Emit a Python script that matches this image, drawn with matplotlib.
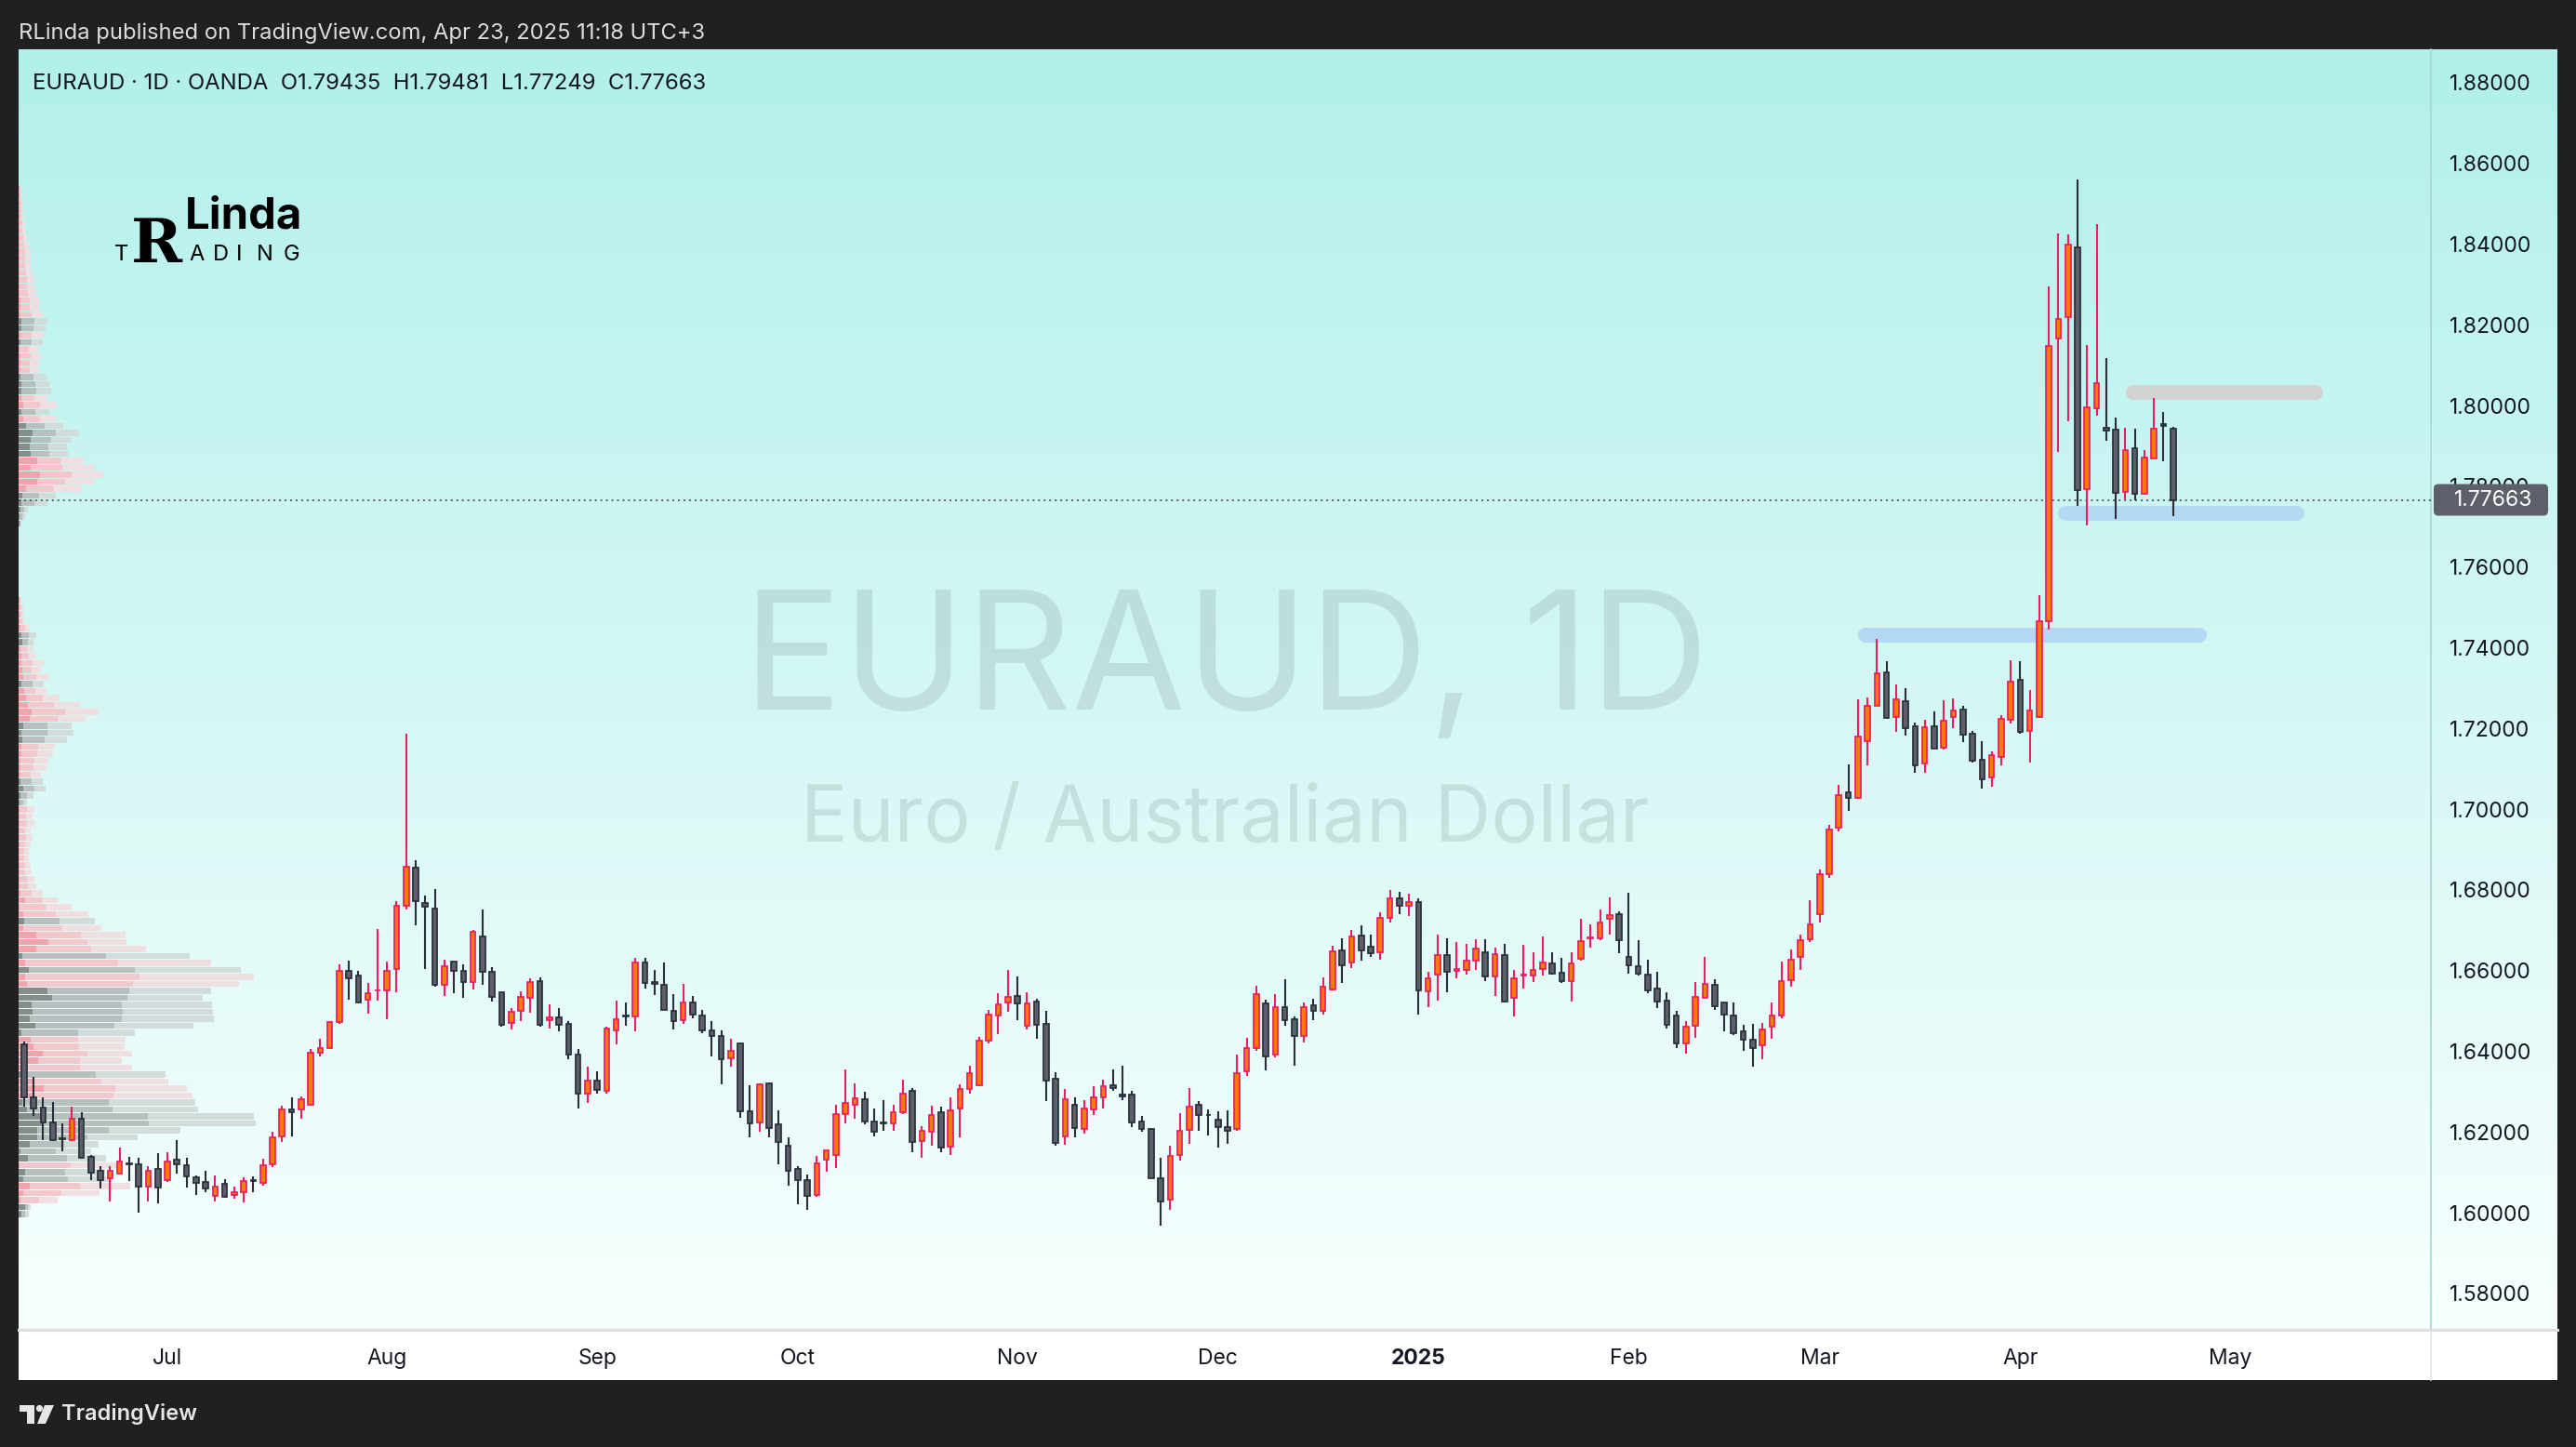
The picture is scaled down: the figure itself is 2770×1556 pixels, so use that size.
import numpy as np
import matplotlib
matplotlib.use("Agg")
import matplotlib.pyplot as plt
import matplotlib.transforms as mtransforms
from matplotlib import font_manager
from matplotlib.patches import FancyBboxPatch, Polygon, Circle, Rectangle
from matplotlib.lines import Line2D

plt.rcParams['font.family'] = ['Inter', 'DejaVu Sans']

# EURAUD 1D (OANDA) daily candles, 10 Jun 2024 -> 23 Apr 2025
opens = [
    1.6417, 1.6286, 1.6261, 1.6223, 1.6184, 1.6181, 1.6234, 1.6138, 1.6105, 1.6086,
    1.6098, 1.6122, 1.6119, 1.6065, 1.6108, 1.6080, 1.6131, 1.6117, 1.6088, 1.6076,
    1.6042, 1.6071, 1.6044, 1.6050, 1.6080, 1.6073, 1.6119, 1.6189, 1.6257, 1.6255,
    1.6268, 1.6397, 1.6407, 1.6472, 1.6600, 1.6588, 1.6528, 1.6550, 1.6552, 1.6603,
    1.6760, 1.6854, 1.6767, 1.6753, 1.6564, 1.6622, 1.6599, 1.6572, 1.6684, 1.6596,
    1.6546, 1.6470, 1.6501, 1.6532, 1.6574, 1.6477, 1.6483, 1.6468, 1.6391, 1.6294,
    1.6328, 1.6303, 1.6451, 1.6488, 1.6487, 1.6620, 1.6572, 1.6564, 1.6501, 1.6477,
    1.6520, 1.6488, 1.6451, 1.6437, 1.6382, 1.6420, 1.6251, 1.6223, 1.6321, 1.6218,
    1.6165, 1.6108, 1.6080, 1.6044, 1.6131, 1.6144, 1.6244, 1.6267, 1.6282, 1.6225,
    1.6223, 1.6221, 1.6248, 1.6302, 1.6177, 1.6200, 1.6248, 1.6163, 1.6258, 1.6307,
    1.6317, 1.6426, 1.6488, 1.6520, 1.6538, 1.6463, 1.6524, 1.6469, 1.6332, 1.6190,
    1.6268, 1.6208, 1.6257, 1.6286, 1.6315, 1.6292, 1.6292, 1.6225, 1.6207, 1.6085,
    1.6033, 1.6142, 1.6205, 1.6267, 1.6242, 1.6230, 1.6213, 1.6207, 1.6350, 1.6409,
    1.6518, 1.6393, 1.6509, 1.6480, 1.6437, 1.6513, 1.6500, 1.6553, 1.6650, 1.6620,
    1.6688, 1.6660, 1.6645, 1.6730, 1.6780, 1.6760, 1.6770, 1.6549, 1.6589, 1.6638,
    1.6600, 1.6601, 1.6624, 1.6645, 1.6585, 1.6638, 1.6532, 1.6587, 1.6587, 1.6605,
    1.6618, 1.6595, 1.6574, 1.6629, 1.6680, 1.6681, 1.6729, 1.6739, 1.6633, 1.6610,
    1.6589, 1.6555, 1.6525, 1.6488, 1.6419, 1.6463, 1.6532, 1.6564, 1.6522, 1.6488,
    1.6449, 1.6428, 1.6414, 1.6460, 1.6488, 1.6576, 1.6633, 1.6678, 1.6739, 1.6840,
    1.6955, 1.7041, 1.7029, 1.7169, 1.7256, 1.7338, 1.7228, 1.7267, 1.7206, 1.7113,
    1.7206, 1.7152, 1.7228, 1.7246, 1.7186, 1.7122, 1.7079, 1.7129, 1.7221, 1.7320,
    1.7194, 1.7229, 1.7465, 1.8166, 1.8218, 1.8393, 1.7793, 1.7993, 1.7946, 1.7941,
    1.7786, 1.7895, 1.7782, 1.7870, 1.7953, 1.79435,
]
highs = [
    1.6425, 1.6336, 1.6286, 1.6274, 1.6221, 1.6264, 1.6249, 1.6142, 1.6115, 1.6115,
    1.6161, 1.6139, 1.6136, 1.6115, 1.6148, 1.6150, 1.6180, 1.6136, 1.6092, 1.6104,
    1.6092, 1.6083, 1.6065, 1.6088, 1.6090, 1.6134, 1.6201, 1.6265, 1.6286, 1.6288,
    1.6405, 1.6432, 1.6476, 1.6615, 1.6625, 1.6600, 1.6570, 1.6703, 1.6622, 1.6772,
    1.7187, 1.6874, 1.6787, 1.6802, 1.6626, 1.6622, 1.6616, 1.6701, 1.6751, 1.6609,
    1.6546, 1.6507, 1.6549, 1.6580, 1.6583, 1.6516, 1.6507, 1.6476, 1.6405, 1.6361,
    1.6350, 1.6461, 1.6526, 1.6520, 1.6632, 1.6632, 1.6601, 1.6620, 1.6542, 1.6566,
    1.6537, 1.6503, 1.6476, 1.6451, 1.6432, 1.6420, 1.6315, 1.6321, 1.6323, 1.6254,
    1.6186, 1.6116, 1.6094, 1.6140, 1.6155, 1.6267, 1.6355, 1.6320, 1.6300, 1.6258,
    1.6278, 1.6267, 1.6330, 1.6309, 1.6215, 1.6265, 1.6263, 1.6286, 1.6318, 1.6364,
    1.6436, 1.6503, 1.6543, 1.6601, 1.6586, 1.6546, 1.6530, 1.6500, 1.6347, 1.6307,
    1.6286, 1.6278, 1.6313, 1.6330, 1.6355, 1.6364, 1.6301, 1.6240, 1.6211, 1.6136,
    1.6165, 1.6246, 1.6309, 1.6277, 1.6255, 1.6251, 1.6254, 1.6393, 1.6433, 1.6562,
    1.6528, 1.6542, 1.6579, 1.6487, 1.6520, 1.6530, 1.6583, 1.6662, 1.6680, 1.6700,
    1.6712, 1.6690, 1.6745, 1.6800, 1.6795, 1.6790, 1.6780, 1.6597, 1.6690, 1.6680,
    1.6670, 1.6665, 1.6678, 1.6678, 1.6657, 1.6666, 1.6601, 1.6664, 1.6645, 1.6685,
    1.6645, 1.6631, 1.6645, 1.6728, 1.6715, 1.6751, 1.6781, 1.6747, 1.6793, 1.6675,
    1.6626, 1.6597, 1.6547, 1.6501, 1.6474, 1.6572, 1.6635, 1.6578, 1.6522, 1.6522,
    1.6465, 1.6468, 1.6470, 1.6520, 1.6622, 1.6652, 1.6689, 1.6774, 1.6850, 1.6960,
    1.7060, 1.7110, 1.7271, 1.7277, 1.7421, 1.7367, 1.7309, 1.7300, 1.7215, 1.7221,
    1.7242, 1.7269, 1.7274, 1.7256, 1.7194, 1.7168, 1.7143, 1.7233, 1.7369, 1.7366,
    1.7295, 1.7530, 1.8296, 1.8427, 1.8424, 1.8559, 1.8150, 1.8450, 1.8118, 1.7970,
    1.7945, 1.7943, 1.7890, 1.8019, 1.7983, 1.79481,
]
lows = [
    1.6263, 1.6240, 1.6179, 1.6178, 1.6153, 1.6177, 1.6133, 1.6082, 1.6061, 1.6029,
    1.6096, 1.6079, 1.6000, 1.6029, 1.6023, 1.6077, 1.6098, 1.6063, 1.6044, 1.6052,
    1.6029, 1.6038, 1.6035, 1.6026, 1.6052, 1.6067, 1.6112, 1.6176, 1.6190, 1.6234,
    1.6267, 1.6388, 1.6405, 1.6468, 1.6528, 1.6522, 1.6494, 1.6526, 1.6480, 1.6547,
    1.6752, 1.6712, 1.6605, 1.6561, 1.6538, 1.6545, 1.6533, 1.6553, 1.6564, 1.6523,
    1.6460, 1.6453, 1.6476, 1.6496, 1.6460, 1.6457, 1.6450, 1.6381, 1.6259, 1.6271,
    1.6294, 1.6295, 1.6418, 1.6463, 1.6450, 1.6556, 1.6539, 1.6503, 1.6455, 1.6467,
    1.6482, 1.6444, 1.6388, 1.6319, 1.6361, 1.6236, 1.6186, 1.6201, 1.6188, 1.6121,
    1.6066, 1.6021, 1.6008, 1.6040, 1.6102, 1.6111, 1.6222, 1.6232, 1.6218, 1.6190,
    1.6202, 1.6202, 1.6245, 1.6150, 1.6136, 1.6165, 1.6150, 1.6142, 1.6188, 1.6296,
    1.6314, 1.6420, 1.6443, 1.6499, 1.6478, 1.6455, 1.6432, 1.6276, 1.6165, 1.6169,
    1.6186, 1.6196, 1.6242, 1.6259, 1.6301, 1.6278, 1.6213, 1.6200, 1.6086, 1.5969,
    1.6008, 1.6130, 1.6171, 1.6203, 1.6192, 1.6162, 1.6171, 1.6202, 1.6338, 1.6401,
    1.6353, 1.6384, 1.6464, 1.6364, 1.6423, 1.6478, 1.6492, 1.6551, 1.6570, 1.6607,
    1.6624, 1.6633, 1.6627, 1.6720, 1.6740, 1.6735, 1.6492, 1.6510, 1.6526, 1.6547,
    1.6582, 1.6590, 1.6602, 1.6574, 1.6538, 1.6522, 1.6487, 1.6556, 1.6572, 1.6588,
    1.6589, 1.6569, 1.6523, 1.6624, 1.6658, 1.6676, 1.6689, 1.6643, 1.6593, 1.6587,
    1.6545, 1.6507, 1.6457, 1.6409, 1.6395, 1.6434, 1.6532, 1.6503, 1.6450, 1.6441,
    1.6401, 1.6361, 1.6380, 1.6432, 1.6482, 1.6561, 1.6602, 1.6670, 1.6720, 1.6830,
    1.6946, 1.6996, 1.7026, 1.7108, 1.7256, 1.7223, 1.7191, 1.7183, 1.7089, 1.7089,
    1.7150, 1.7148, 1.7200, 1.7167, 1.7115, 1.7052, 1.7056, 1.7108, 1.7213, 1.7188,
    1.7115, 1.7225, 1.7446, 1.7884, 1.7962, 1.7751, 1.7702, 1.7974, 1.7912, 1.7720,
    1.7768, 1.7765, 1.7782, 1.7868, 1.7863, 1.77249,
]
closes = [
    1.6286, 1.6259, 1.6223, 1.6181, 1.6183, 1.6232, 1.6136, 1.6100, 1.6080, 1.6103,
    1.6126, 1.6121, 1.6065, 1.6103, 1.6063, 1.6128, 1.6119, 1.6089, 1.6075, 1.6059,
    1.6065, 1.6040, 1.6052, 1.6079, 1.6079, 1.6117, 1.6186, 1.6257, 1.6249, 1.6282,
    1.6396, 1.6407, 1.6472, 1.6600, 1.6582, 1.6522, 1.6543, 1.6552, 1.6599, 1.6760,
    1.6858, 1.6771, 1.6758, 1.6564, 1.6610, 1.6599, 1.6572, 1.6695, 1.6596, 1.6534,
    1.6466, 1.6497, 1.6534, 1.6572, 1.6466, 1.6483, 1.6465, 1.6391, 1.6294, 1.6328,
    1.6305, 1.6456, 1.6480, 1.6487, 1.6620, 1.6570, 1.6566, 1.6503, 1.6474, 1.6520,
    1.6492, 1.6451, 1.6437, 1.6380, 1.6401, 1.6251, 1.6221, 1.6318, 1.6209, 1.6176,
    1.6105, 1.6080, 1.6042, 1.6123, 1.6155, 1.6244, 1.6273, 1.6284, 1.6225, 1.6200,
    1.6222, 1.6248, 1.6294, 1.6175, 1.6204, 1.6242, 1.6161, 1.6253, 1.6307, 1.6346,
    1.6426, 1.6490, 1.6516, 1.6535, 1.6519, 1.6518, 1.6465, 1.6327, 1.6172, 1.6282,
    1.6209, 1.6259, 1.6286, 1.6314, 1.6309, 1.6288, 1.6223, 1.6207, 1.6086, 1.6027,
    1.6140, 1.6202, 1.6264, 1.6241, 1.6241, 1.6212, 1.6202, 1.6345, 1.6407, 1.6541,
    1.6388, 1.6509, 1.6478, 1.6437, 1.6509, 1.6500, 1.6559, 1.6647, 1.6612, 1.6685,
    1.6650, 1.6643, 1.6730, 1.6780, 1.6760, 1.6770, 1.6551, 1.6582, 1.6638, 1.6597,
    1.6604, 1.6625, 1.6655, 1.6585, 1.6641, 1.6524, 1.6582, 1.6589, 1.6602, 1.6621,
    1.6593, 1.6574, 1.6618, 1.6674, 1.6682, 1.6720, 1.6737, 1.6676, 1.6612, 1.6592,
    1.6552, 1.6524, 1.6466, 1.6419, 1.6460, 1.6535, 1.6566, 1.6512, 1.6492, 1.6446,
    1.6428, 1.6407, 1.6455, 1.6489, 1.6575, 1.6628, 1.6676, 1.6714, 1.6840, 1.6950,
    1.7035, 1.7029, 1.7181, 1.7257, 1.7336, 1.7227, 1.7271, 1.7200, 1.7108, 1.7204,
    1.7150, 1.7218, 1.7244, 1.7185, 1.7119, 1.7075, 1.7133, 1.7224, 1.7315, 1.7191,
    1.7244, 1.7465, 1.8147, 1.8214, 1.8398, 1.7790, 1.7996, 1.8056, 1.7939, 1.7784,
    1.7890, 1.7782, 1.7872, 1.7943, 1.7949, 1.77663,
]

# bar index of the first session of each month
month_pos = [15, 38, 60, 81, 104, 125, 146, 168, 188, 209, 231]
month_labels = ['Jul', 'Aug', 'Sep', 'Oct', 'Nov', 'Dec', '2025', 'Feb', 'Mar', 'Apr', 'May']
price_ticks = [1.58, 1.60, 1.62, 1.64, 1.66, 1.68, 1.70, 1.72, 1.74, 1.76, 1.78,
               1.80, 1.82, 1.84, 1.86, 1.88]
last_price = 1.77663

# hand drawn zones: price level, first bar, last bar
zone_price = [1.7430, 1.7733, 1.8033]
zone_from = [192.8, 213.7, 220.8]
zone_to = [227.8, 238.0, 239.9]
zone_color = ['#b3d9f5', '#b3d9f5', '#d2d2d2']

# visible range volume profile, rows from 1.5997 upward
vp_first = 1.5997
vp_step = 0.001728
vp_up = [
    3, 7, 2, 5, 12, 5, 7, 1, 10, 2,
    12, 20, 20, 25, 25, 9, 4, 17, 27, 17,
    8, 10, 21, 26, 16, 13, 3, 18, 12, 15,
    14, 36, 31, 9, 7, 11, 7, 4, 19, 32,
    19, 5, 6, 5, 1, 7, 2, 1, 1, 1,
    1, 1, 1, 1, 1, 1, 1, 1, 1, 1,
    2, 5, 2, 2, 2, 2, 3, 3, 4, 3,
    5, 12, 14, 10, 8, 6, 3, 5, 4, 3,
    3, 2, 4, 3, 2, 1, 1, 1, 1, 0,
    0, 0, 0, 0, 0, 0, 0, 0, 0, 1,
    1, 2, 3, 4, 8, 20, 23, 13, 20, 13,
    12, 13, 15, 8, 5, 3, 5, 3, 3, 3,
    2, 2, 2, 2, 1, 2, 2, 3, 3, 2,
    2, 2, 1, 1, 1, 1, 1, 1, 1, 1,
    1, 1, 1, 1, 1, 1, 1, 1,
]
vp_down = [
    4, 3, 20, 41, 54, 48, 43, 55, 42, 38,
    37, 54, 77, 115, 114, 92, 93, 85, 77, 72,
    75, 56, 45, 48, 49, 51, 61, 85, 99, 97,
    97, 81, 88, 114, 123, 114, 100, 90, 59, 42,
    48, 42, 38, 35, 28, 18, 12, 9, 8, 6,
    6, 5, 5, 6, 7, 6, 8, 7, 8, 4,
    7, 12, 12, 11, 14, 15, 17, 18, 24, 28,
    26, 30, 36, 28, 18, 12, 12, 14, 10, 12,
    8, 7, 6, 8, 5, 3, 2, 2, 1, 0,
    0, 0, 0, 0, 0, 0, 0, 0, 0, 1,
    3, 4, 14, 18, 30, 30, 34, 34, 25, 20,
    20, 22, 25, 20, 18, 15, 18, 14, 16, 15,
    14, 10, 10, 11, 10, 12, 12, 13, 14, 12,
    10, 10, 9, 8, 8, 7, 6, 6, 6, 5,
    4, 3, 3, 2, 2, 2, 1, 1,
]
vp_pink = [
    0, 0, 1, 1, 1, 0, 0, 1, 0, 0,
    0, 0, 0, 0, 0, 0, 0, 1, 1, 1,
    0, 1, 1, 1, 1, 1, 0, 0, 0, 0,
    0, 0, 0, 1, 1, 0, 1, 0, 1, 1,
    1, 1, 0, 1, 1, 1, 1, 1, 1, 1,
    1, 1, 1, 1, 1, 1, 1, 1, 1, 0,
    0, 0, 0, 1, 1, 1, 1, 1, 0, 0,
    0, 1, 1, 1, 1, 1, 0, 1, 1, 1,
    1, 1, 0, 0, 1, 1, 1, 1, 1, 0,
    0, 0, 0, 0, 0, 0, 0, 0, 0, 0,
    0, 0, 0, 0, 1, 1, 1, 1, 1, 0,
    0, 0, 0, 0, 1, 0, 1, 1, 0, 0,
    0, 1, 1, 1, 1, 0, 1, 0, 0, 1,
    1, 1, 1, 1, 1, 1, 1, 1, 1, 1,
    1, 1, 1, 1, 1, 1, 1, 1,
]

# ---------------------------------------------------------------------------
W, H = 2770, 1556
DARK = '#202020'
TXT = '#131722'
fig = plt.figure(figsize=(W / 100, H / 100), dpi=100, facecolor=DARK)


def box(x0, y0, x1, y1):
    # pixel box (origin top-left) -> figure fraction rect
    return [x0 / W, 1 - y1 / H, (x1 - x0) / W, (y1 - y0) / H]


def fpt(x, y):
    return x / W, 1 - y / H


# gradient background of the chart pane (incl. price scale)
bg = fig.add_axes(box(20, 53, 2750, 1429), zorder=0)
grad = np.linspace(0, 1, 300)[:, None, None]
top_c = np.array([178, 240, 235]) / 255
bot_c = np.array([247, 255, 254]) / 255
bg.imshow(top_c + (bot_c - top_c) * grad, aspect='auto', extent=[0, 1, 0, 1])
bg.axis('off')

# white time scale strip
fig.add_artist(Rectangle(fpt(20, 1484), 2730 / W, 55 / H, transform=fig.transFigure,
                         fc='white', ec='none', zorder=0.5))
fig.add_artist(Line2D([20 / W, 2750 / W], [1 - 1430 / H] * 2, color='#dedede', lw=2.2, zorder=1))
fig.add_artist(Line2D([2614 / W] * 2, [1 - 53 / H, 1 - 1429 / H], color='#a6d6d1', lw=1.2, zorder=1))
fig.add_artist(Line2D([2614 / W] * 2, [1 - 1431 / H, 1 - 1484 / H], color='#e6e6e6', lw=1.2, zorder=1))

ylim = (1.57145, 1.88827)
xlim = (-0.58, 252.0)

# volume profile pane (x in pixels from left edge)
vp = fig.add_axes(box(20, 53, 2614, 1428), zorder=1)
vp.set_facecolor('none')
vp.set_xlim(0, 2594)
vp.set_ylim(*ylim)
vp.axis('off')
rows = vp_first + vp_step * np.arange(len(vp_up))
up_v = np.array(vp_up, float)
dn_v = np.array(vp_down, float)
pink = np.array(vp_pink, bool)
dark_c = np.where(pink, '#f2a3ab', '#868e8c').tolist()
mid_c = np.where(pink, '#f3c8cc', '#b7c0be').tolist()
lite_c = np.where(pink, '#f0dfe1', '#d2dcdb').tolist()
rh = vp_step * 0.86
vp.barh(rows, up_v, left=0, height=rh, color=dark_c, lw=0)
vp.barh(rows, dn_v, left=up_v, height=rh, color=mid_c, lw=0)
vp.barh(rows, dn_v, left=up_v + dn_v, height=rh, color=lite_c, lw=0)

# main price pane
ax = fig.add_axes(box(20, 53, 2614, 1428), zorder=2)
ax.set_facecolor('none')
ax.set_xlim(*xlim)
ax.set_ylim(*ylim)
for s in ax.spines.values():
    s.set_visible(False)

# watermark
wm1 = ax.text(0.5004, 0.4836, 'EURAUD, 1D', transform=ax.transAxes, ha='center',
              va='baseline', fontsize=130, color='#7a8c8c', alpha=0.22, zorder=0)
wm2 = ax.text(0.5, 0.3807, 'Euro / Australian Dollar', transform=ax.transAxes,
              ha='center', va='baseline', fontsize=62, color='#7a8c8c', alpha=0.22, zorder=0)

# zones
for p, a, b, col in zip(zone_price, zone_from, zone_to, zone_color):
    ax.plot([a, b], [p, p], color=col, lw=11.5, solid_capstyle='round', zorder=1)

# last price line
ax.axhline(last_price, color='#50545e', lw=1.3, ls=(0, (1.1, 2.2)), zorder=2)

# candles
o = np.array(opens)
hi = np.array(highs)
lo = np.array(lows)
c = np.array(closes)
x = np.arange(len(o))
bull = c >= o
edge = np.where(bull, '#e91e63', '#2a2e39').tolist()
fill = np.where(bull, '#f57c00', '#5d606b').tolist()
ax.vlines(x, lo, hi, colors=edge, lw=1.5, zorder=3)
ax.bar(x, np.abs(c - o), bottom=np.minimum(o, c), width=0.545, color=fill,
       edgecolor=edge, linewidth=1.25, zorder=4)

# axes / ticks
ax.yaxis.tick_right()
ax.set_yticks(price_ticks)
ax.set_yticklabels([f'{p:.5f}' for p in price_ticks])
ax.tick_params(axis='y', length=0, pad=14.5, labelsize=16.5, labelcolor=TXT)
ax.set_xticks(month_pos)
ax.set_xticklabels(month_labels)
ax.tick_params(axis='x', length=0, pad=16, labelsize=16.5, labelcolor=TXT)
for lbl in ax.get_xticklabels():
    if lbl.get_text() == '2025':
        lbl.set_fontweight('bold')

# header texts
fig.text(*fpt(20, 36), 'RLinda published on TradingView.com, Apr 23, 2025 11:18 UTC+3',
         color='#dddddd', fontsize=17.1, va='center', ha='left')
fig.text(*fpt(35, 90), 'EURAUD · 1D · OANDA  O1.79435  H1.79481  L1.77249  C1.77663',
         color=TXT, fontsize=17.2, va='center', ha='left', zorder=5)

# RLinda logo (tall narrow R if a narrow face is installed)
installed = {f.name for f in font_manager.fontManager.ttflist}
r_family = 'Liberation Sans Narrow' if 'Liberation Sans Narrow' in installed else 'DejaVu Serif'
logo_r = fig.text(*fpt(141, 282), 'R', family=[r_family], fontweight='bold',
                  fontsize=60, color='black', va='baseline', zorder=5)
fig.text(*fpt(199, 245), 'Linda', fontweight='bold', fontsize=34, color='black',
         va='baseline', zorder=5)
fig.text(*fpt(123, 280), 'T', fontsize=17, color='black', va='baseline', zorder=5)
for ch, xx in zip('ADING', [203, 229, 254, 276, 305]):
    fig.text(*fpt(xx, 280), ch, fontsize=17, color='black', va='baseline', zorder=5)

# fit watermark and logo widths to the reference
fig.canvas.draw()
for t, target in ((wm1, 1039), (wm2, 912), (logo_r, 55)):
    w = t.get_window_extent().width
    t.set_fontsize(t.get_fontsize() * target / w)

# last price label on the scale
yd = ax.transData.transform((0, last_price))[1]
fig.add_artist(FancyBboxPatch((2617, yd - 17), 123, 34,
                              boxstyle='round,pad=0,rounding_size=5',
                              transform=mtransforms.IdentityTransform(),
                              fc='#5d606b', ec='none', zorder=6))
fig.text(2681 / W, yd / H, f'{last_price:.5f}', ha='center', va='center',
         color='white', fontsize=16.5, zorder=7)

# TradingView footer
ident = mtransforms.IdentityTransform()
fig.add_artist(Polygon([(21, H - 1511), (37, H - 1511), (37, H - 1531), (29, H - 1531),
                        (29, H - 1518), (21, H - 1518)], closed=True, fc='#e6e6e6',
                       ec='none', transform=ident, zorder=5))
fig.add_artist(Circle((42.5, H - 1514.5), 3.6, fc='#e6e6e6', ec='none', transform=ident, zorder=5))
fig.add_artist(Polygon([(48, H - 1511), (58, H - 1511), (49, H - 1531), (40, H - 1531)],
                       closed=True, fc='#e6e6e6', ec='none', transform=ident, zorder=5))
fig.text(*fpt(66, 1521), 'TradingView', color='#e6e6e6', fontsize=17, fontweight='semibold',
         va='center', ha='left')

fig.savefig('out.png', dpi=100, facecolor=DARK)
